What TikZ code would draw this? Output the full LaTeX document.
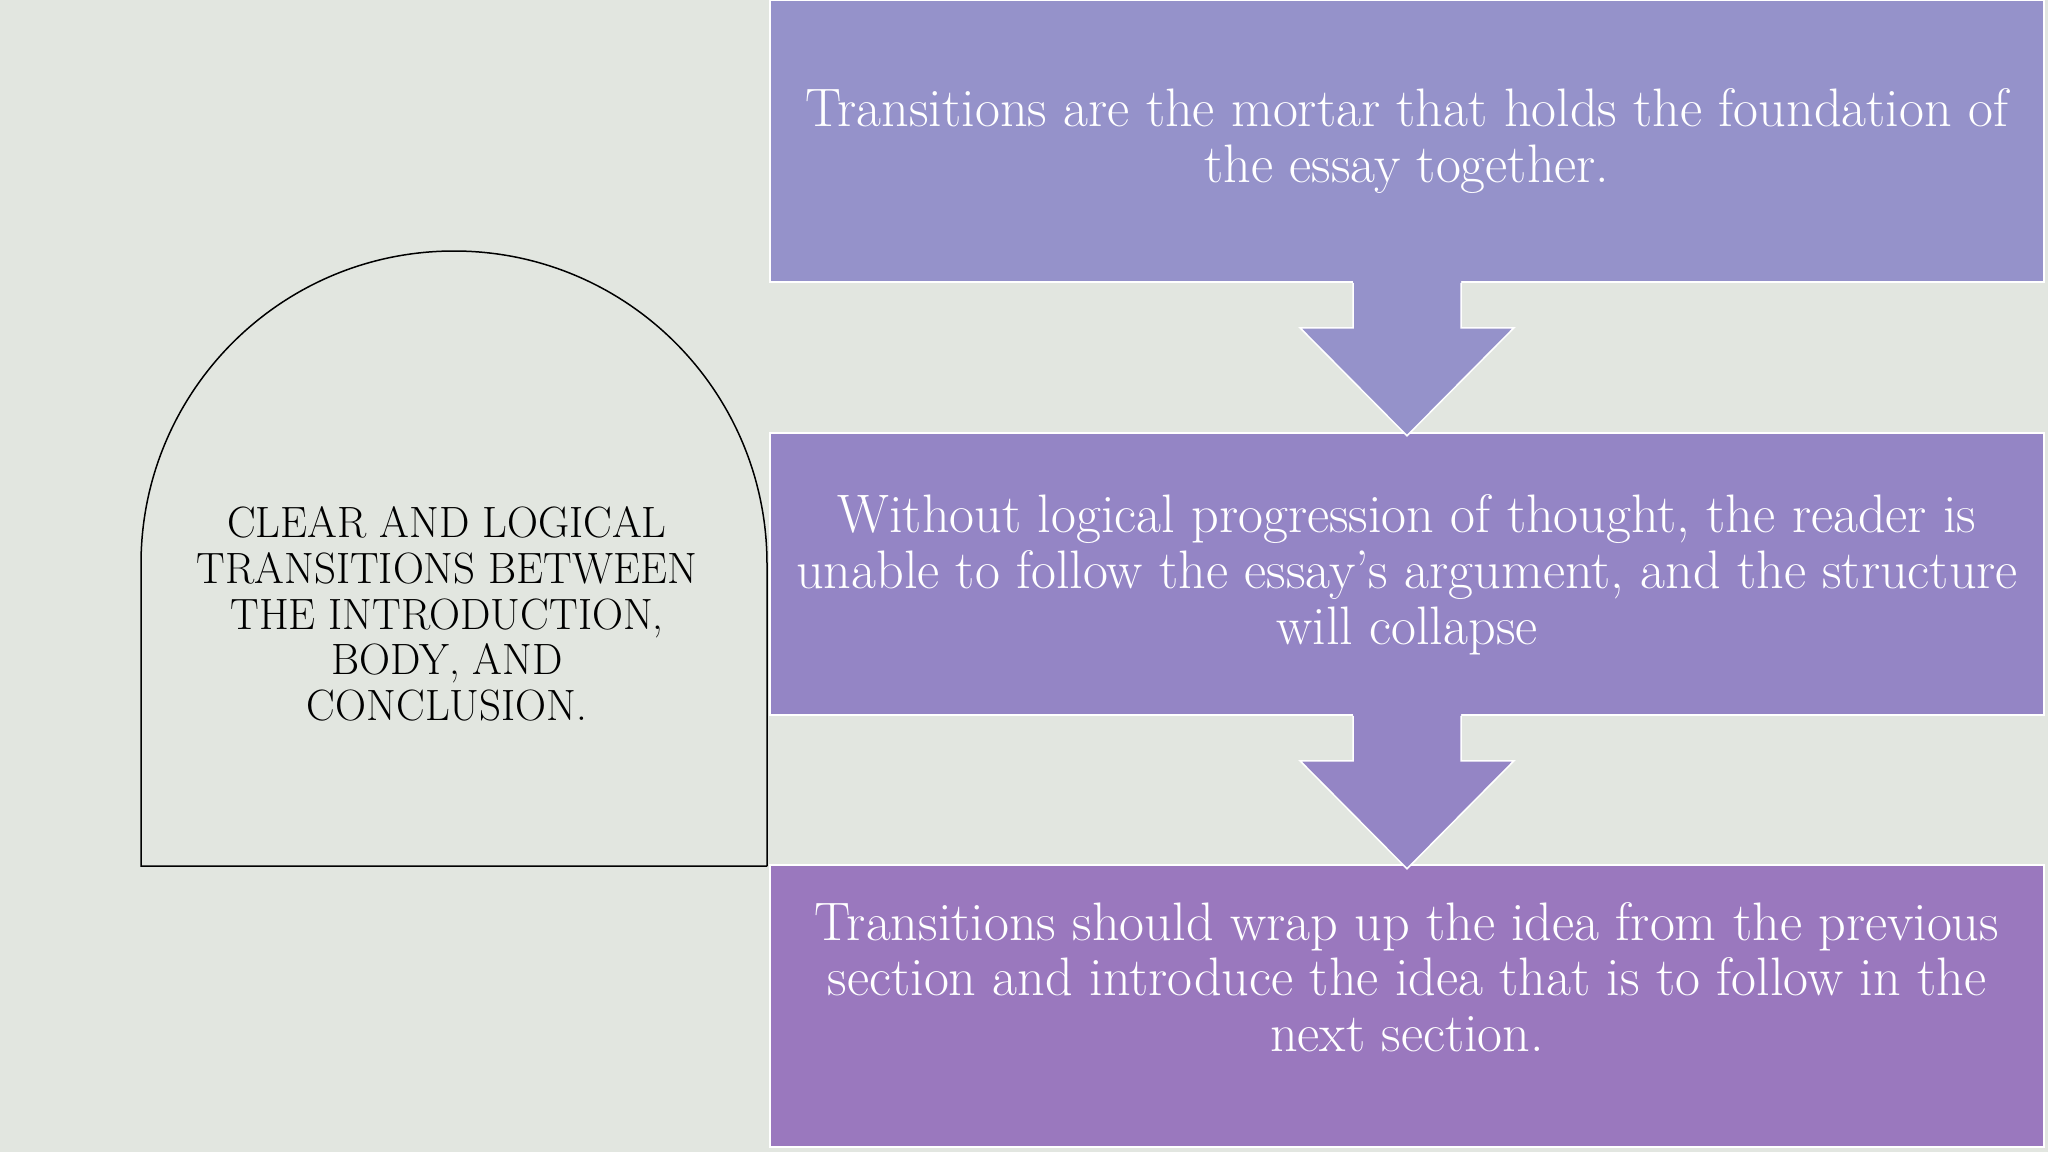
\documentclass[tikz,border=0pt]{standalone}
\usepackage{fontspec}
\setmainfont{Latin Modern Roman}
\newfontfamily\archfont[FakeStretch=0.98]{Latin Modern Roman}
\usetikzlibrary{calc}
\definecolor{bgc}{HTML}{E2E6E0}
\definecolor{cone}{HTML}{9592CA}
\definecolor{ctwo}{HTML}{9485C5}
\definecolor{cthree}{HTML}{9A78BE}
\tikzset{
  stepbox/.style={rectangle, draw=white, line width=1.5bp, inner sep=0pt, minimum width=1274bp, minimum height=282bp},
  boxtext/.style={text=white, align=center, font=\fontsize{54.4}{56}\selectfont, inner sep=0pt},
  archtext/.style={text=black, align=center, font=\archfont\fontsize{44}{46}\selectfont, inner sep=0pt},
  arrowline/.style={draw=white, line width=1.5bp, line join=miter}
}
\begin{document}
\begin{tikzpicture}[x=1bp,y=-1bp]
\fill[bgc] (0,0) rectangle (2048,1152);
\useasboundingbox (0,0) rectangle (2048,1152);

% arch
\coordinate (abl) at (141,866);
\coordinate (abr) at (767,866);
\draw[black, line width=1.5bp] (abr) -- (767,564) arc[start angle=0, end angle=-180, radius=313] -- (abl) -- (abr);
\node[archtext] (arch) at (447,614) {CLEAR AND LOGICAL\\TRANSITIONS BETWEEN\\THE INTRODUCTION,\\BODY, AND\\CONCLUSION.};

% boxes
\node[stepbox, fill=cone] (b1) at (1407,141) {};
\node[stepbox, fill=ctwo] (b2) at (1407,574) {};
\node[stepbox, fill=cthree] (b3) at (1407,1006) {};

% arrows
\foreach \src/\col in {b1/cone, b2/ctwo}{
  \fill[\col] ($(\src.south)+(-54,-3)$) -- ($(\src.south)+(-54,45)$) -- ($(\src.south)+(-107,45)$) -- ($(\src.south)+(0,153)$) -- ($(\src.south)+(107,45)$) -- ($(\src.south)+(54,45)$) -- ($(\src.south)+(54,-3)$) -- cycle;
  \draw[arrowline] ($(\src.south)+(-54,0)$) -- ($(\src.south)+(-54,45)$) -- ($(\src.south)+(-107,45)$) -- ($(\src.south)+(0,153)$) -- ($(\src.south)+(107,45)$) -- ($(\src.south)+(54,45)$) -- ($(\src.south)+(54,0)$);
}

% texts
\node[boxtext] (t1) at (1407,141) {Transitions are the mortar that holds the foundation of\\the essay together.};
\node[boxtext] (t2) at (1407,575) {Without logical progression of thought, the reader is\\unable to follow the essay’s argument, and the structure\\will collapse};
\node[boxtext] (t3) at (1407,977) {Transitions should wrap up the idea from the previous\\section and introduce the idea that is to follow in the\\next section.};
\end{tikzpicture}
\end{document}
